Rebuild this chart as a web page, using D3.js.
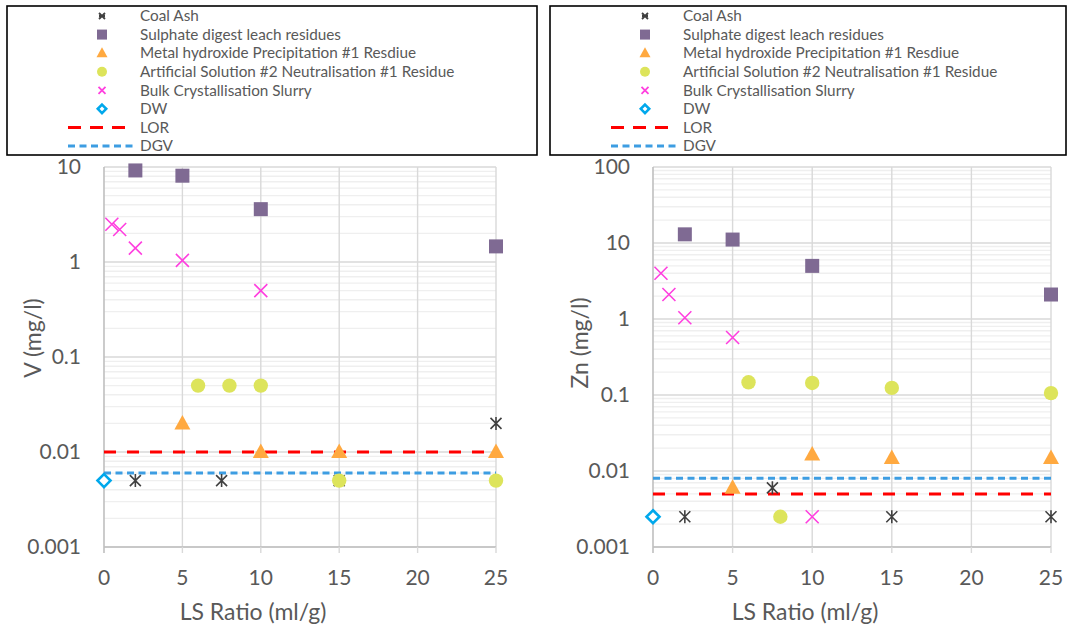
<!DOCTYPE html>
<html>
<head>
<meta charset="utf-8">
<script src="https://cdn.jsdelivr.net/npm/d3@7"></script>
<style>
  html, body { margin: 0; padding: 0; background: #fff; }
  svg { display: block; font-family: Lato, "Open Sans", sans-serif; }
</style>
</head>
<body>
<svg id="chart" width="1072" height="630"></svg>
<script>
// Series names shown in both legends
const seriesNames = [
  "Coal Ash",
  "Sulphate digest leach residues",
  "Metal hydroxide Precipitation #1 Resdiue",
  "Artificial Solution #2 Neutralisation #1 Residue",
  "Bulk Crystallisation Slurry",
  "DW",
  "LOR",
  "DGV"
];
const xTicks = [0, 5, 10, 15, 20, 25];

// Vanadium leachate concentrations (mg/l) vs LS ratio (ml/g)
const vCoalAsh   = [[2, 0.005], [7.5, 0.005], [15, 0.005], [25, 0.02]];
const vSulphate  = [[2, 9.2], [5, 8.1], [10, 3.6], [25, 1.46]];
const vMetalHyd  = [[5, 0.02], [10, 0.01], [15, 0.01], [25, 0.01]];
const vArtSol    = [[6, 0.05], [8, 0.05], [10, 0.05], [15, 0.005], [25, 0.005]];
const vBulk      = [[0.5, 2.5], [1, 2.2], [2, 1.4], [5, 1.04], [10, 0.5]];
const vDW        = [[0, 0.005]];
const vLOR = 0.01;
const vDGV = 0.006;
const vTicks = [0.001, 0.01, 0.1, 1, 10];

// Zinc leachate concentrations (mg/l) vs LS ratio (ml/g)
const znCoalAsh  = [[2, 0.0025], [7.5, 0.006], [15, 0.0025], [25, 0.0025]];
const znSulphate = [[2, 13], [5, 11.1], [10, 5], [25, 2.1]];
const znMetalHyd = [[5, 0.006], [10, 0.0165], [15, 0.0148], [25, 0.0148]];
const znArtSol   = [[6, 0.147], [8, 0.0025], [10, 0.144], [15, 0.124], [25, 0.106]];
const znBulk     = [[0.5, 4], [1, 2.1], [2, 1.04], [5, 0.57], [10, 0.0025]];
const znDW       = [[0, 0.0025]];
const znLOR = 0.005;
const znDGV = 0.008;
const znTicks = [0.001, 0.01, 0.1, 1, 10, 100];

const colors = {
  coal: "#404040",
  sulphate: "#7f6a93",
  metal: "#ffa940",
  art: "#dde45b",
  bulk: "#ff3fdf",
  dw: "#00a8ec",
  lor: "#ff0000",
  dgv: "#3d9de2"
};

const svg = d3.select("#chart");
const textColor = "#595959";

// Marker drawing helpers
function drawMarker(g, kind, x, y) {
  if (kind === "coal") {
    const s = 5.5;
    g.append("path")
      .attr("d", `M${x - s},${y - s}L${x + s},${y + s}M${x - s},${y + s}L${x + s},${y - s}M${x},${y - s - 1}L${x},${y + s + 1}`)
      .attr("stroke", colors.coal).attr("stroke-width", 1.6).attr("fill", "none");
  } else if (kind === "sulphate") {
    g.append("rect").attr("x", x - 7).attr("y", y - 7).attr("width", 14).attr("height", 14)
      .attr("fill", colors.sulphate);
  } else if (kind === "metal") {
    g.append("path")
      .attr("d", `M${x},${y - 8.5}L${x + 8},${y + 6}L${x - 8},${y + 6}Z`)
      .attr("fill", colors.metal);
  } else if (kind === "art") {
    g.append("circle").attr("cx", x).attr("cy", y).attr("r", 7.2).attr("fill", colors.art);
  } else if (kind === "bulk") {
    const s = 6.5;
    g.append("path")
      .attr("d", `M${x - s},${y - s}L${x + s},${y + s}M${x - s},${y + s}L${x + s},${y - s}`)
      .attr("stroke", colors.bulk).attr("stroke-width", 1.6).attr("fill", "none");
  } else if (kind === "dw") {
    const s = 6.5;
    g.append("path")
      .attr("d", `M${x},${y - s}L${x + s},${y}L${x},${y + s}L${x - s},${y}Z`)
      .attr("stroke", colors.dw).attr("stroke-width", 2.6).attr("fill", "#fff");
  }
}

function drawLegendMarker(g, kind, x, y) {
  if (kind === "coal") {
    const s = 3;
    g.append("path")
      .attr("d", `M${x - s},${y - s}L${x + s},${y + s}M${x - s},${y + s}L${x + s},${y - s}M${x - s},${y}L${x + s},${y}`)
      .attr("stroke", colors.coal).attr("stroke-width", 1.8).attr("fill", "none");
  } else if (kind === "sulphate") {
    g.append("rect").attr("x", x - 5).attr("y", y - 5).attr("width", 10).attr("height", 10)
      .attr("fill", colors.sulphate);
  } else if (kind === "metal") {
    g.append("path").attr("d", `M${x},${y - 6}L${x + 5.5},${y + 4}L${x - 5.5},${y + 4}Z`)
      .attr("fill", colors.metal);
  } else if (kind === "art") {
    g.append("circle").attr("cx", x).attr("cy", y).attr("r", 5).attr("fill", colors.art);
  } else if (kind === "bulk") {
    const s = 3.5;
    g.append("path")
      .attr("d", `M${x - s},${y - s}L${x + s},${y + s}M${x - s},${y + s}L${x + s},${y - s}`)
      .attr("stroke", colors.bulk).attr("stroke-width", 1.8).attr("fill", "none");
  } else if (kind === "dw") {
    const s = 4.2;
    g.append("path")
      .attr("d", `M${x},${y - s}L${x + s},${y}L${x},${y + s}L${x - s},${y}Z`)
      .attr("stroke", colors.dw).attr("stroke-width", 2.6).attr("fill", "#fff");
  }
}

const lorDash = "12,11";
const dgvDash = "7,4.5";

function drawLegend(left, right) {
  const g = svg.append("g");
  g.append("rect").attr("x", left).attr("y", 6).attr("width", right - left).attr("height", 149)
    .attr("fill", "#fff").attr("stroke", "#000").attr("stroke-width", 1.6);
  const kinds = ["coal", "sulphate", "metal", "art", "bulk", "dw", "lor", "dgv"];
  const rowY = d3.scaleLinear().domain([0, 7]).range([16, 146]);
  kinds.forEach((k, i) => {
    const y = rowY(i);
    const mx = left + 95;
    if (k === "lor") {
      g.append("line").attr("x1", left + 61).attr("x2", left + 118).attr("y1", y).attr("y2", y)
        .attr("stroke", colors.lor).attr("stroke-width", 3).attr("stroke-dasharray", "13,9");
    } else if (k === "dgv") {
      g.append("line").attr("x1", left + 61).attr("x2", left + 128).attr("y1", y).attr("y2", y)
        .attr("stroke", colors.dgv).attr("stroke-width", 3).attr("stroke-dasharray", "7,4.5");
    } else {
      drawLegendMarker(g, k, mx, y);
    }
    g.append("text").attr("x", left + 133).attr("y", y).attr("dy", "0.35em")
      .attr("fill", textColor).attr("font-size", 15.3).text(seriesNames[i]);
  });
}

function drawPanel(cfg) {
  const x = d3.scaleLinear().domain([0, 25]).range([cfg.x0, cfg.x1]);
  const y = d3.scaleLog().domain([0.001, cfg.yMax]).range([cfg.yBot, cfg.yTop]);
  const g = svg.append("g");

  // minor horizontal gridlines
  const minor = [];
  const decades = Math.round(Math.log10(cfg.yMax / 0.001));
  for (let d = 0; d < decades; d++) {
    const base = 0.001 * Math.pow(10, d);
    for (let m = 2; m <= 9; m++) minor.push(base * m);
  }
  g.selectAll(".minor").data(minor).enter().append("line")
    .attr("x1", cfg.x0).attr("x2", cfg.x1)
    .attr("y1", d => y(d)).attr("y2", d => y(d))
    .attr("stroke", "#efefef").attr("stroke-width", 1.4);

  // major horizontal gridlines
  g.selectAll(".major").data(cfg.ticks).enter().append("line")
    .attr("x1", cfg.x0).attr("x2", cfg.x1)
    .attr("y1", d => y(d)).attr("y2", d => y(d))
    .attr("stroke", "#d9d9d9").attr("stroke-width", 1.4);

  // vertical gridlines
  g.selectAll(".vgrid").data(xTicks.slice(1)).enter().append("line")
    .attr("x1", d => x(d)).attr("x2", d => x(d))
    .attr("y1", cfg.yTop).attr("y2", cfg.yBot)
    .attr("stroke", "#d9d9d9").attr("stroke-width", 1.4);

  // axis lines
  g.append("line").attr("x1", cfg.x0).attr("x2", cfg.x0).attr("y1", cfg.yTop).attr("y2", cfg.yBot + 6)
    .attr("stroke", "#bfbfbf").attr("stroke-width", 1.6);
  g.append("line").attr("x1", cfg.x0).attr("x2", cfg.x1).attr("y1", cfg.yBot).attr("y2", cfg.yBot)
    .attr("stroke", "#bfbfbf").attr("stroke-width", 1.6);
  g.selectAll(".xtickmark").data(xTicks.slice(1)).enter().append("line")
    .attr("x1", d => x(d)).attr("x2", d => x(d)).attr("y1", cfg.yBot).attr("y2", cfg.yBot + 6)
    .attr("stroke", "#d9d9d9").attr("stroke-width", 1.4);

  // tick labels
  g.selectAll(".ylab").data(cfg.ticks).enter().append("text")
    .attr("x", cfg.x0 - 23).attr("y", d => y(d)).attr("dy", "0.35em")
    .attr("text-anchor", "end").attr("fill", textColor).attr("font-size", 21)
    .text(d => d3.format("~g")(d));
  g.selectAll(".xlab").data(xTicks).enter().append("text")
    .attr("x", d => x(d)).attr("y", cfg.yBot + 31).attr("dy", "0.35em")
    .attr("text-anchor", "middle").attr("fill", textColor).attr("font-size", 21)
    .text(d => d);

  // axis titles
  g.append("text").attr("x", cfg.xTitleX).attr("y", 612).attr("dy", "0.35em")
    .attr("text-anchor", "middle").attr("fill", textColor).attr("font-size", 23)
    .text("LS Ratio (ml/g)");
  g.append("text").attr("transform", `translate(${cfg.yTitleX},${cfg.yTitleY}) rotate(-90)`)
    .attr("dy", "0.35em").attr("text-anchor", "middle").attr("fill", textColor)
    .attr("font-size", 23).text(cfg.yTitle);

  // reference lines
  g.append("line").attr("x1", x(0)).attr("x2", x(25)).attr("y1", y(cfg.lor)).attr("y2", y(cfg.lor))
    .attr("stroke", colors.lor).attr("stroke-width", 3).attr("stroke-dasharray", lorDash);
  g.append("line").attr("x1", x(0)).attr("x2", x(25)).attr("y1", y(cfg.dgv)).attr("y2", y(cfg.dgv))
    .attr("stroke", colors.dgv).attr("stroke-width", 3).attr("stroke-dasharray", dgvDash);

  // data markers
  const series = [
    ["coal", cfg.coal], ["sulphate", cfg.sulphate], ["metal", cfg.metal],
    ["art", cfg.art], ["bulk", cfg.bulk], ["dw", cfg.dw]
  ];
  series.forEach(([kind, pts]) => {
    pts.forEach(p => drawMarker(g, kind, x(p[0]), y(p[1])));
  });
}

drawLegend(7, 537);
drawLegend(550, 1066);

drawPanel({
  x0: 104, x1: 496, yTop: 167, yBot: 547, yMax: 10, ticks: vTicks,
  yTitle: "V (mg/l)", yTitleX: 33, yTitleY: 338, xTitleX: 253,
  coal: vCoalAsh, sulphate: vSulphate, metal: vMetalHyd, art: vArtSol, bulk: vBulk, dw: vDW,
  lor: vLOR, dgv: vDGV
});
drawPanel({
  x0: 653, x1: 1051, yTop: 167, yBot: 547, yMax: 100, ticks: znTicks,
  yTitle: "Zn (mg/l)", yTitleX: 580, yTitleY: 343, xTitleX: 805,
  coal: znCoalAsh, sulphate: znSulphate, metal: znMetalHyd, art: znArtSol, bulk: znBulk, dw: znDW,
  lor: znLOR, dgv: znDGV
});
</script>
</body>
</html>
